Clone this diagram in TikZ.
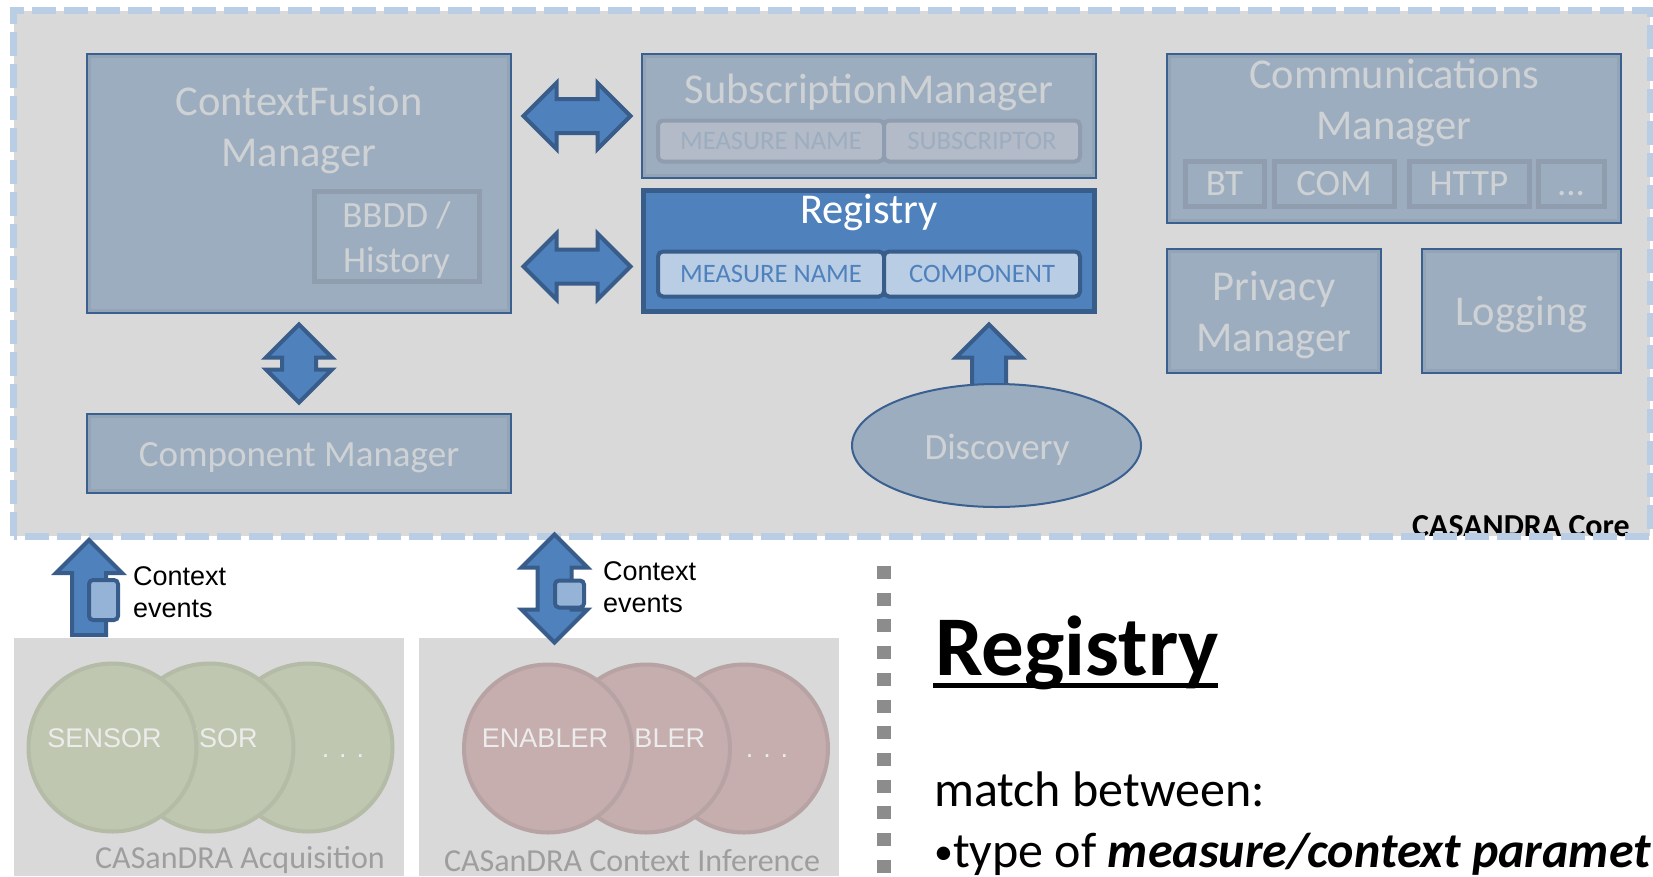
\documentclass[tikz,border=0pt]{standalone}
\usepackage{fontspec}
\setmainfont{Carlito}
\newfontfamily\arialfont{Liberation Sans}
\usetikzlibrary{shapes.arrows,shapes.geometric}
\definecolor{coregray}{HTML}{D9D9D9}
\definecolor{coredash}{HTML}{B9CDE5}
\definecolor{boxfill}{HTML}{9DADC0}
\definecolor{boxband}{HTML}{94A4B7}
\definecolor{boxedge}{HTML}{3A6090}
\definecolor{boxtext}{HTML}{CFD2D4}
\definecolor{blockblue}{HTML}{4F81BD}
\definecolor{blockedge}{HTML}{385D8A}
\definecolor{celllight}{HTML}{B9CDE5}
\definecolor{cellfade}{HTML}{B2BBC7}
\definecolor{celledge}{HTML}{8F9DAE}
\definecolor{greenball}{HTML}{BFC7B0}
\definecolor{greenedge}{HTML}{B4BBA6}
\definecolor{redball}{HTML}{C6ADAE}
\definecolor{rededge}{HTML}{B8A3A4}
\newcommand{\fsize}[2]{\fontsize{#1}{#2}\selectfont}
\newcommand{\moredots}{...}
\tikzset{
  boxnode/.style={rectangle,draw=boxedge,line width=2pt,fill=boxfill,inner sep=0pt,
    path picture={\draw[boxband,line width=8pt] (path picture bounding box.south west) rectangle (path picture bounding box.north east);}},
  boxtxt/.style={text=boxtext,align=center,inner sep=0pt,font=\fsize{42.5}{51}},
  smalltxt/.style={boxtxt,font=\fsize{37}{45}},
  subcell/.style={rectangle,draw=celledge,line width=5pt,inner sep=0pt,text=boxtext,text height=23pt,text depth=0pt,font=\fsize{37}{45}},
  fadecell/.style={rectangle,rounded corners=5pt,draw=celledge,line width=4pt,fill=cellfade,inner sep=0pt,text=boxfill,font=\fsize{26.6}{30}},
  livecell/.style={rectangle,rounded corners=5pt,draw=blockedge,line width=4pt,fill=celllight,inner sep=0pt,text=blockblue,font=\fsize{26.6}{30}},
  blockarrow/.style={draw=blockedge,line width=4pt,fill=blockblue,inner xsep=0pt,inner ysep=15pt},
  twoway/.style={blockarrow,double arrow,double arrow head extend=16pt},
  oneway/.style={blockarrow,single arrow,single arrow head extend=16pt,rotate=90},
  smallcell/.style={rectangle,rounded corners=4pt,draw=blockedge,line width=4pt,fill=blockblue!60!white,inner sep=0pt},
  ball/.style={ellipse,line width=4pt,inner sep=0pt,minimum width=168pt,minimum height=168pt},
  balltxt/.style={inner sep=0pt,text=white!85!gray,font=\arialfont\fsize{27}{30}},
  eventtxt/.style={anchor=west,align=left,inner sep=0pt,font=\arialfont\fsize{27}{32}},
  paneltxt/.style={inner sep=0pt,text=black!38,font=\fsize{32}{34}}
}
\begin{document}
\begin{tikzpicture}[x=1pt,y=-1pt]
  \clip (0,0) rectangle (1653,876);
  \fill[white] (0,0) rectangle (1653,876);

  \node[fill=coregray,inner sep=0pt,minimum width=1636pt,minimum height=525pt] (core) at (832,273.5) {};
  \node[inner sep=0pt,font=\bfseries\fsize{32}{34}] (coretxt) at (1521,526) {CASANDRA Core};
  \draw[coredash,line width=7pt,dash pattern=on 24pt off 8pt] (core.south west) rectangle (core.north east);

  \node[boxnode,minimum width=424pt,minimum height=259pt] (fusion) at (299,183.5) {};
  \node[boxtxt] (fusiontxt) at (299,130) {ContextFusion\\Manager};
  \node[rectangle,draw=celledge,line width=5pt,inner sep=0pt,minimum width=165pt,minimum height=90pt] (bbdd) at (396.5,236) {};
  \node[smalltxt] (bbddtxt) at (396.5,240) {BBDD /\\History};

  \node[boxnode,minimum width=424pt,minimum height=79pt] (compmgr) at (299,453.5) {};
  \node[smalltxt] (compmgrtxt) at (299,458) {Component Manager};

  \node[boxnode,minimum width=454pt,minimum height=124pt] (submgr) at (869,116) {};
  \node[boxtxt] (submgrtxt) at (869,92) {SubscriptionManager};
  \node[fadecell,minimum width=226pt,minimum height=41pt] (subname) at (771,141) {MEASURE NAME};
  \node[fadecell,minimum width=196pt,minimum height=41pt] (subscr) at (982,141) {SUBSCRIPTOR};

  \node[rectangle,draw=blockedge,line width=5pt,fill=blockblue,inner sep=0pt,minimum width=451pt,minimum height=121pt] (registry) at (869,251) {};
  \node[boxtxt,text=white] (registrytxt) at (869,213) {Registry};
  \node[livecell,minimum width=226pt,minimum height=45pt] (regname) at (771,274) {MEASURE NAME};
  \node[livecell,minimum width=196pt,minimum height=45pt] (regcomp) at (982,274) {COMPONENT};

  \node[boxnode,minimum width=454pt,minimum height=169pt] (commgr) at (1394,138.5) {};
  \node[boxtxt] (commgrtxt) at (1394,103) {Communications\\Manager};
  \foreach \x/\w/\t/\n in {1224.5/79/BT/bt,1334/120/COM/com,1469/120/HTTP/http,1571/66/\moredots/more} {
    \node[subcell,minimum width=\w pt,minimum height=45pt] (\n) at (\x,183.5) {\t};
  }

  \node[boxnode,minimum width=214pt,minimum height=124pt] (privacy) at (1274,311) {};
  \node[boxtxt] (privacytxt) at (1274,315) {Privacy\\Manager};
  \node[boxnode,minimum width=199pt,minimum height=124pt] (logging) at (1521.5,311) {};
  \node[boxtxt] (loggingtxt) at (1521.5,315) {Logging};

  \node[twoway,minimum height=107pt] (arrowsub) at (577,116) {};
  \node[twoway,minimum height=107pt] (arrowreg) at (577,266.5) {};
  \node[twoway,minimum height=78pt,rotate=90] (arrowcomp) at (299,363.5) {};

  \node[oneway,minimum height=66pt] (arrowdisc) at (989,366) {};
  \node[ellipse,draw=boxedge,line width=2pt,fill=boxfill,inner sep=0pt,minimum width=289pt,minimum height=123pt] (discovery) at (996.5,445.5) {};
  \node[smalltxt] (discoverytxt) at (997,450) {Discovery};

  \node[fill=coregray,inner sep=0pt,minimum width=390pt,minimum height=238pt] (acqpanel) at (209,757) {};
  \node[fill=coregray,inner sep=0pt,minimum width=420pt,minimum height=238pt] (infpanel) at (629,757) {};

  \node[oneway,minimum height=95pt] (arrowacq) at (89,596) {};
  \node[smallcell,minimum width=29pt,minimum height=40pt] (cellacq) at (103.5,600) {};
  \node[eventtxt] (eventacq) at (133,592) {Context\\events};

  \node[twoway,minimum height=108pt,rotate=90] (arrowinf) at (554.5,588.5) {};
  \node[smallcell,minimum width=29pt,minimum height=27pt] (cellinf) at (569.5,594) {};
  \node[eventtxt] (eventinf) at (603,587) {Context\\events};

  \foreach \x/\tx/\ty/\t/\n in {308.5/343/756/{. . .}/3,209.5/200.5/738/SENSOR/2,112.5/104.5/738/SENSOR/1} {
    \node[ball,draw=greenedge,fill=greenball] (sensball\n) at (\x,747.5) {};
    \node[balltxt] (senstxt\n) at (\tx,\ty) {\t};
  }
  \foreach \x/\tx/\ty/\t/\n in {744/767/756/{. . .}/3,646/642/738/ENABLER/2,548/545/738/ENABLER/1} {
    \node[ball,draw=rededge,fill=redball] (enabball\n) at (\x,748.5) {};
    \node[balltxt] (enabtxt\n) at (\tx,\ty) {\t};
  }
  \node[paneltxt] (acqtxt) at (240,860) {CASanDRA Acquisition};
  \node[paneltxt] (inftxt) at (632,861) {CASanDRA Context Inference};

  \coordinate (septop) at (884,566);
  \coordinate (sepend) at (884,876);
  \draw[black!45,line width=14pt,dash pattern=on 13pt off 13.7pt] (septop) -- (sepend);

  \node[anchor=base west,inner sep=0pt,font=\bfseries\fsize{85}{90}] (regtitle) at (935,675) {Registry};
  \fill (933,683) rectangle (1218,688);
  \node[anchor=base west,inner sep=0pt,font=\fsize{50}{52}] (matchtxt) at (934,806) {match between:};
  \node[anchor=base west,inner sep=0pt,font=\fsize{50}{52}] (typetxt) at (934,867) {\raisebox{3pt}{\fsize{38}{38}•}type of \textbf{\textit{measure/context paramet}}};
\end{tikzpicture}
\end{document}
